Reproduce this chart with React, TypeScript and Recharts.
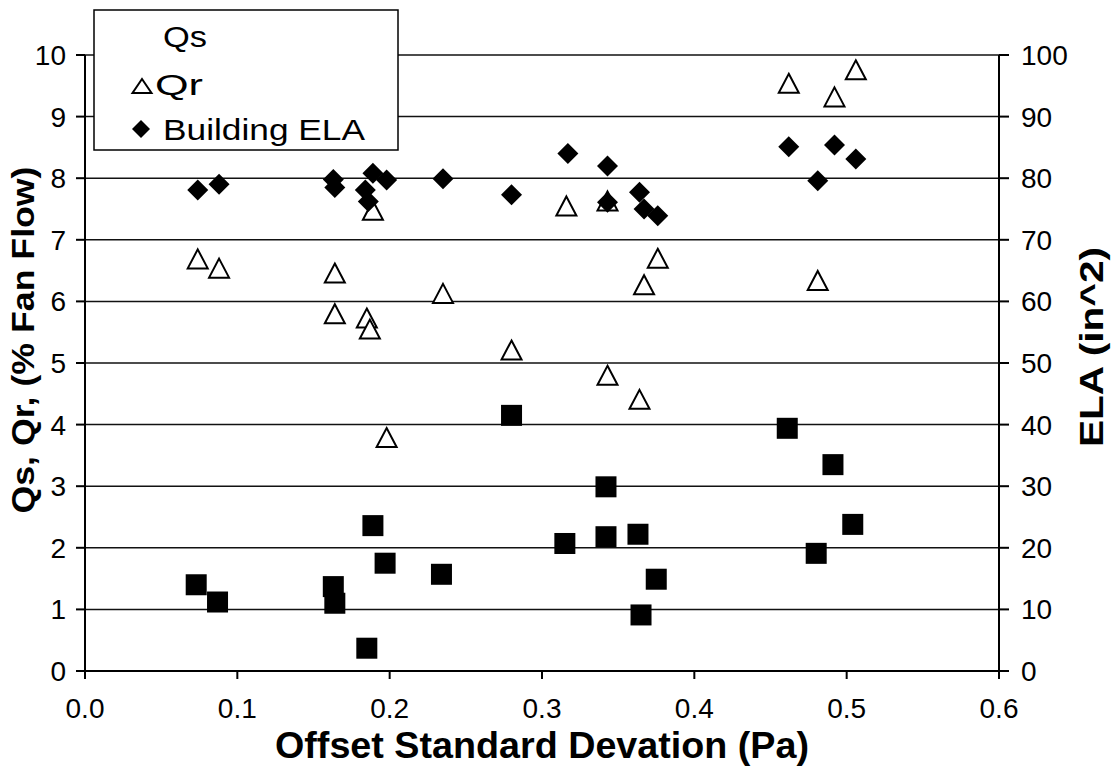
import { ScatterChart, Scatter, XAxis, YAxis, CartesianGrid, Legend, Label } from 'recharts';

const FONT = '"Liberation Sans", Arial, Helvetica, sans-serif';

// Qs: supply-side flow, % of fan flow
const qsOffset = [0.073, 0.087, 0.163, 0.164, 0.189, 0.197, 0.185, 0.234, 0.28, 0.315, 0.342, 0.342, 0.363, 0.365, 0.375, 0.461, 0.48, 0.491, 0.504];
const qsFlow = [1.4, 1.12, 1.37, 1.1, 2.36, 1.75, 0.37, 1.57, 4.15, 2.07, 2.99, 2.18, 2.22, 0.91, 1.49, 3.94, 1.91, 3.35, 2.38];

// Qr: return-side flow, % of fan flow
const qrOffset = [0.074, 0.088, 0.164, 0.164, 0.185, 0.187, 0.189, 0.198, 0.235, 0.28, 0.316, 0.343, 0.343, 0.364, 0.367, 0.376, 0.462, 0.481, 0.492, 0.506];
const qrFlow = [6.69, 6.54, 6.46, 5.8, 5.73, 5.55, 7.48, 3.79, 6.13, 5.21, 7.55, 7.63, 4.8, 4.41, 6.27, 6.7, 9.54, 6.34, 9.32, 9.76];

// building effective leakage area, in^2
const elaOffset = [0.074, 0.088, 0.163, 0.164, 0.184, 0.186, 0.189, 0.198, 0.235, 0.28, 0.317, 0.343, 0.343, 0.364, 0.367, 0.376, 0.462, 0.481, 0.492, 0.506];
const elaArea = [78.1, 79.0, 79.8, 78.5, 78.1, 76.2, 80.8, 79.7, 79.9, 77.3, 84.0, 82.0, 76.1, 77.7, 75.0, 73.9, 85.1, 79.6, 85.4, 83.1];

const xTicks = [0, 0.1, 0.2, 0.3, 0.4, 0.5, 0.6];
const flowTicks = [0, 1, 2, 3, 4, 5, 6, 7, 8, 9, 10];
const elaTicks = [0, 10, 20, 30, 40, 50, 60, 70, 80, 90, 100];

const toPoints = (xs: number[], ys: number[]) => xs.map((x, i) => ({ x, y: ys[i] }));

const qsData = toPoints(qsOffset, qsFlow);
const qrData = toPoints(qrOffset, qrFlow);
const elaData = toPoints(elaOffset, elaArea);

function SquareMark({ cx, cy }: any) {
  return <rect x={cx - 10.5} y={cy - 10.5} width={21} height={21} fill="#000" />;
}

function TriangleMark({ cx, cy, w = 20, h = 19 }: any) {
  const pts = `${cx},${cy - h / 2} ${cx + w / 2},${cy + h / 2} ${cx - w / 2},${cy + h / 2}`;
  return <polygon points={pts} fill="#fff" stroke="#000" strokeWidth={2} strokeLinejoin="miter" />;
}

function DiamondMark({ cx, cy, r = 10.5 }: any) {
  const pts = `${cx},${cy - r} ${cx + r},${cy} ${cx},${cy + r} ${cx - r},${cy}`;
  return <polygon points={pts} fill="#000" />;
}

const legendText = { fontFamily: FONT, fontSize: 30, fill: '#000' } as const;

function LegendBox() {
  return (
    <svg width={306} height={142} style={{ display: 'block' }}>
      <rect x={1} y={1} width={304} height={140} fill="#fff" stroke="#000" strokeWidth={1.5} />
      <text x={70} y={38} textLength={44} lengthAdjust="spacingAndGlyphs" {...legendText}>Qs</text>
      <TriangleMark cx={49} cy={77} w={19} h={14} />
      <text x={62} y={86} textLength={48} lengthAdjust="spacingAndGlyphs" {...legendText}>Qr</text>
      <DiamondMark cx={48} cy={120} r={9} />
      <text x={70} y={131} textLength={202} lengthAdjust="spacingAndGlyphs" {...legendText}>Building ELA</text>
    </svg>
  );
}

const titleStyle = { fontFamily: FONT, fontSize: 34, fontWeight: 700, fill: '#000' } as const;

function BottomTitle({ viewBox }: any) {
  const cx = viewBox.x + viewBox.width / 2;
  return (
    <text x={cx} y={viewBox.y + 87} textAnchor="middle" textLength={534} lengthAdjust="spacingAndGlyphs" {...titleStyle} fontSize={36}>
      Offset Standard Devation (Pa)
    </text>
  );
}

function LeftTitle({ viewBox }: any) {
  const cy = viewBox.y + viewBox.height / 2 - 23;
  const x = 34;
  return (
    <text x={x} y={cy} transform={`rotate(-90 ${x} ${cy})`} textAnchor="middle" textLength={347} lengthAdjust="spacingAndGlyphs" {...titleStyle} fontSize={32}>
      Qs, Qr, (% Fan Flow)
    </text>
  );
}

function RightTitle({ viewBox }: any) {
  const cy = viewBox.y + viewBox.height / 2 - 16;
  const x = 1103;
  return (
    <text x={x} y={cy} transform={`rotate(-90 ${x} ${cy})`} textAnchor="middle" textLength={200} lengthAdjust="spacingAndGlyphs" {...titleStyle}>
      ELA (in^2)
    </text>
  );
}

const tickStyle = { fill: '#000', fontSize: 28, fontFamily: FONT };
const lineStyle = { stroke: '#000', strokeWidth: 2 };

export default function App() {
  return (
    <div style={{ position: 'absolute', left: 0, top: 0, background: '#fff' }}>
      <ScatterChart width={1114} height={770} margin={{ top: 55, right: 0, bottom: 0, left: 0 }}>
        <CartesianGrid yAxisId="left" vertical={false} stroke="#111" strokeWidth={1.5} horizontalValues={flowTicks} />
        <XAxis
          type="number"
          dataKey="x"
          domain={[0, 0.6]}
          ticks={xTicks}
          tickFormatter={(v: number) => v.toFixed(1)}
          height={99}
          tick={tickStyle}
          tickSize={8}
          tickMargin={19}
          axisLine={lineStyle}
          tickLine={lineStyle}
          allowDataOverflow
        >
          <Label content={BottomTitle} />
        </XAxis>
        <YAxis
          yAxisId="left"
          type="number"
          dataKey="y"
          domain={[0, 10]}
          ticks={flowTicks}
          width={85}
          tick={tickStyle}
          tickSize={9}
          tickMargin={10}
          axisLine={lineStyle}
          tickLine={lineStyle}
        >
          <Label content={LeftTitle} />
        </YAxis>
        <YAxis
          yAxisId="right"
          orientation="right"
          type="number"
          dataKey="y"
          domain={[0, 100]}
          ticks={elaTicks}
          width={115}
          tick={tickStyle}
          tickSize={10}
          tickMargin={12}
          axisLine={lineStyle}
          tickLine={lineStyle}
        >
          <Label content={RightTitle} />
        </YAxis>
        <Scatter name="Qs" data={qsData} yAxisId="left" shape={SquareMark} isAnimationActive={false} />
        <Scatter name="Qr" data={qrData} yAxisId="left" shape={TriangleMark} isAnimationActive={false} />
        <Scatter name="Building ELA" data={elaData} yAxisId="right" shape={DiamondMark} isAnimationActive={false} />
        <Legend
          layout="vertical"
          align="center"
          verticalAlign="middle"
          width={306}
          height={142}
          wrapperStyle={{ left: 93, top: 9, width: 306, height: 142 }}
          content={() => <LegendBox />}
        />
      </ScatterChart>
    </div>
  );
}
